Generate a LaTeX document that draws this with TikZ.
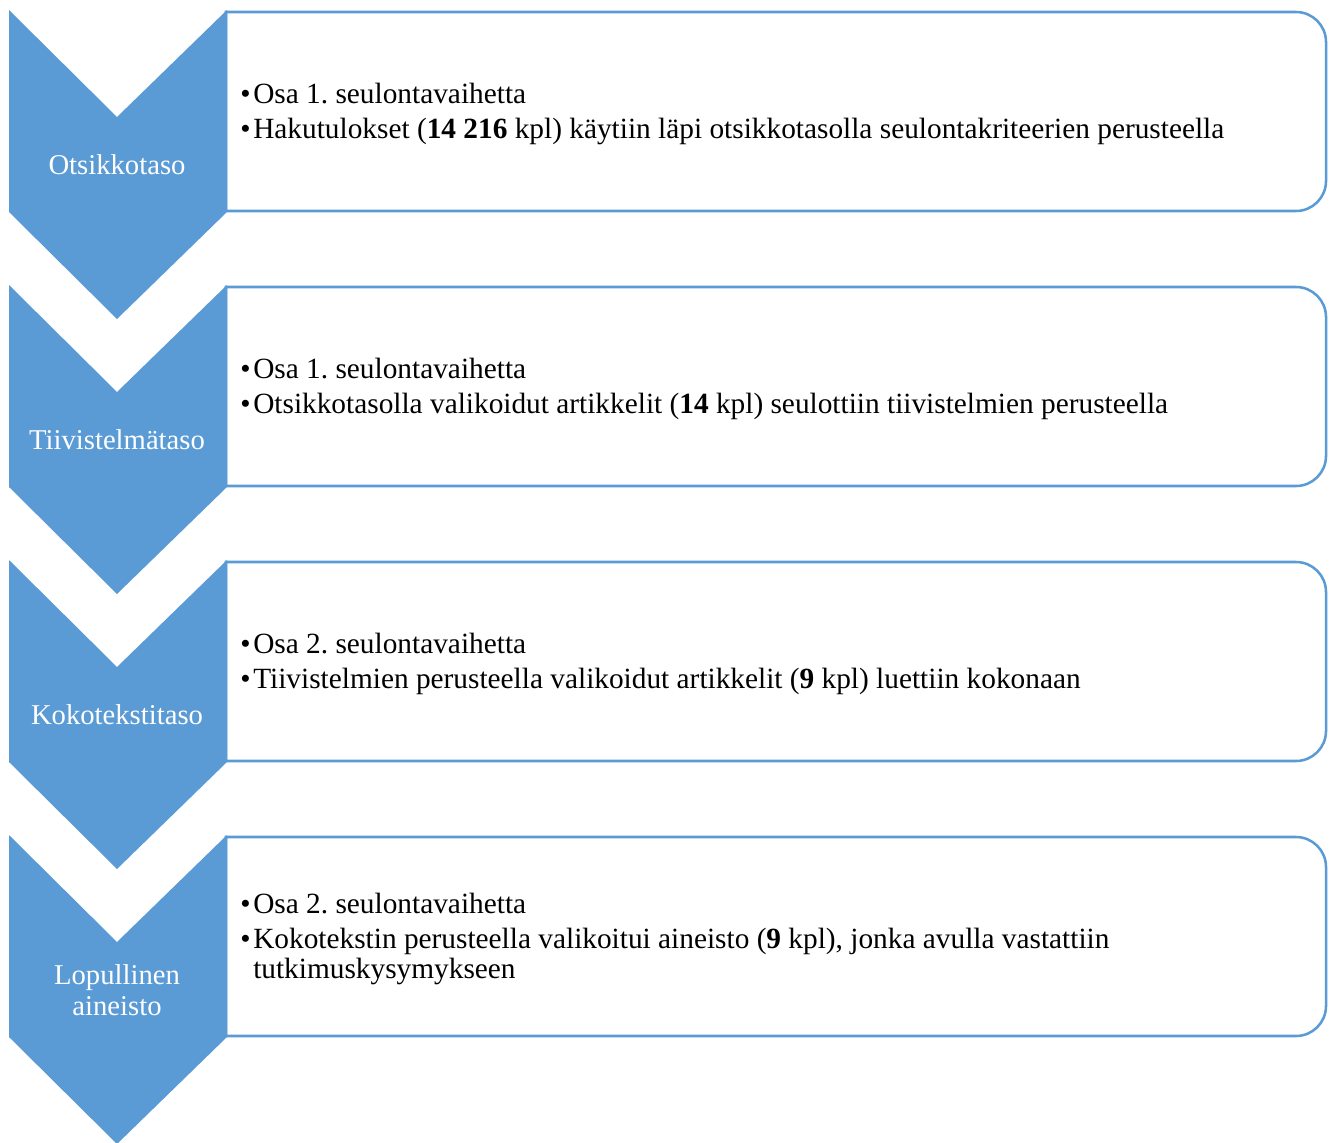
\documentclass[tikz,border=0pt]{standalone}
\usepackage{fontspec}
\setmainfont{Liberation Serif}
\frenchspacing
\definecolor{accblue}{HTML}{5B9BD5}
\tikzset{
  chev/.style={fill=accblue, draw=none},
  stepframe/.style={draw=accblue, line width=1.9pt, fill=white},
  chevlabel/.style={text=white, align=center, inner sep=0pt, font=\fontsize{21.5}{23.5}\selectfont},
  desc/.style={anchor=west, align=left, inner sep=0pt, font=\fontsize{22}{26.25}\selectfont, text=black},
}
\newcommand{\bul}{\makebox[9.75pt][l]{\textbullet}}
\newcommand{\stagegroup}[4]{%
  % #1 top y, #2 name, #3 label, #4 description
  \draw[stepframe] (226,#1+2) [rounded corners=22.5pt] -- (1326,#1+2) -- (1326,#1+201) [sharp corners] -- (226,#1+201) -- cycle;
  \fill[chev] (9,#1) -- (117,#1+107) -- (227,#1) -- (227,#1+202) -- (117,#1+309) -- (9,#1+202) -- cycle;
  \node[chevlabel] (#2lab) at (117,#1+155) {#3};
  \node[desc] (#2txt) at (240,#1+104) {#4};
}
\begin{document}
\begin{tikzpicture}[x=0.75pt,y=-0.75pt]
\useasboundingbox (0,0) rectangle (1334,1142);
\stagegroup{10}{a}{Otsikkotaso}{\bul Osa 1. seulontavaihetta\\\bul Hakutulokset (\textbf{14 216} kpl) käytiin läpi otsikkotasolla seulontakriteerien perusteella}
\stagegroup{285}{b}{Tiivistelmätaso}{\bul Osa 1. seulontavaihetta\\\bul Otsikkotasolla valikoidut artikkelit (\textbf{14} kpl) seulottiin tiivistelmien perusteella}
\stagegroup{560}{c}{Kokotekstitaso}{\bul Osa 2. seulontavaihetta\\\bul Tiivistelmien perusteella valikoidut artikkelit (\textbf{9} kpl) luettiin kokonaan}
\stagegroup{835}{d}{Lopullinen\\aineisto}{\bul Osa 2. seulontavaihetta\\\bul Kokotekstin perusteella valikoitui aineisto (\textbf{9} kpl), jonka avulla vastattiin\\[-3.75pt]\hspace*{9.75pt}tutkimuskysymykseen}
\end{tikzpicture}
\end{document}
